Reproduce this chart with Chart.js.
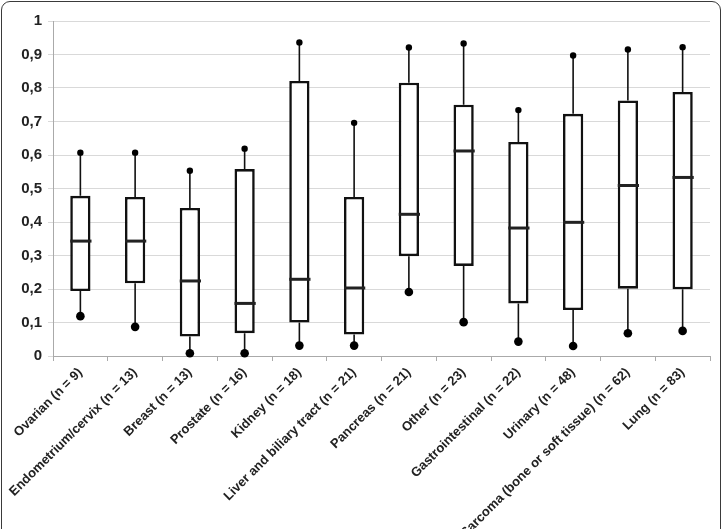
<!DOCTYPE html>
<html>
<head>
    <title>Box plot by tumour type</title>
    <script src="https://cdn.jsdelivr.net/npm/chart.js"></script>
    <style>
        body {
            margin: 0;
            background: #fff;
            font-family: "Liberation Sans", Arial, sans-serif;
        }
        .frame {
            position: absolute;
            left: 1px;
            top: 1px;
            width: 718px;
            height: 560px;
            border: 1.5px solid #3a3a3a;
            border-radius: 9px;
        }
        #chart {
            position: absolute;
            left: 0;
            top: 0;
        }
    </style>
</head>
<body>
    <div class="frame"></div>
    <canvas id="chart" width="726" height="529"></canvas>

    <script>
        const categories = [
            "Ovarian (n = 9)", "Endometrium/cervix (n = 13)", "Breast (n = 13)",
            "Prostate (n = 16)", "Kidney (n = 18)", "Liver and biliary tract (n = 21)",
            "Pancreas (n = 21)", "Other (n = 23)", "Gastrointestinal (n = 22)",
            "Urinary (n = 48)", "Sarcoma (bone or soft tissue) (n = 62)", "Lung (n = 83)"
        ];
        const lowerValues  = [0.119, 0.087, 0.008, 0.008, 0.031, 0.031, 0.191, 0.101, 0.043, 0.030, 0.068, 0.075];
        const q1Values     = [0.194, 0.217, 0.058, 0.068, 0.100, 0.064, 0.298, 0.269, 0.157, 0.137, 0.201, 0.199];
        const medianValues = [0.343, 0.343, 0.224, 0.157, 0.229, 0.203, 0.423, 0.612, 0.382, 0.399, 0.509, 0.533];
        const q3Values     = [0.478, 0.475, 0.442, 0.558, 0.821, 0.475, 0.816, 0.750, 0.639, 0.723, 0.763, 0.788];
        const upperValues  = [0.607, 0.607, 0.553, 0.619, 0.936, 0.696, 0.921, 0.933, 0.734, 0.897, 0.915, 0.922];
        const yTickLabels  = ["0", "0,1", "0,2", "0,3", "0,4", "0,5", "0,6", "0,7", "0,8", "0,9", "1"];

        // whiskers behind the boxes, medians on top
        const boxPlotLines = {
            id: "boxPlotLines",
            beforeDatasetsDraw(chart) {
                const ctx = chart.ctx;
                const x = chart.scales.x, y = chart.scales.y;
                ctx.save();
                ctx.strokeStyle = "#111";
                ctx.lineWidth = 1.6;
                categories.forEach((c, i) => {
                    const px = x.getPixelForValue(i);
                    ctx.beginPath();
                    ctx.moveTo(px, y.getPixelForValue(q3Values[i]));
                    ctx.lineTo(px, y.getPixelForValue(upperValues[i]));
                    ctx.moveTo(px, y.getPixelForValue(q1Values[i]));
                    ctx.lineTo(px, y.getPixelForValue(lowerValues[i]));
                    ctx.stroke();
                });
                ctx.restore();
            },
            afterDatasetsDraw(chart) {
                const ctx = chart.ctx;
                const y = chart.scales.y;
                const bars = chart.getDatasetMeta(0).data;
                ctx.save();
                ctx.strokeStyle = "#222";
                ctx.lineWidth = 3;
                bars.forEach((bar, i) => {
                    const half = bar.width / 2;
                    const py = y.getPixelForValue(medianValues[i]);
                    ctx.beginPath();
                    ctx.moveTo(bar.x - half, py);
                    ctx.lineTo(bar.x + half + 1, py);
                    ctx.stroke();
                });
                ctx.restore();
            }
        };

        const ctx = document.getElementById("chart").getContext("2d");
        new Chart(ctx, {
            type: "bar",
            data: {
                labels: categories,
                datasets: [{
                    label: "Box",
                    data: categories.map((c, i) => [q1Values[i], q3Values[i]]),
                    backgroundColor: "#fff",
                    borderColor: "#111",
                    borderWidth: 2.6,
                    borderSkipped: false,
                    barPercentage: 0.37,
                    categoryPercentage: 1,
                    order: 2
                }, {
                    type: "line",
                    label: "Upper",
                    data: upperValues,
                    showLine: false,
                    pointRadius: 3.2,
                    pointBackgroundColor: "#000",
                    pointBorderWidth: 0,
                    clip: false,
                    order: 1
                }, {
                    type: "line",
                    label: "Lower",
                    data: lowerValues,
                    showLine: false,
                    pointRadius: 4.3,
                    pointBackgroundColor: "#000",
                    pointBorderWidth: 0,
                    clip: false,
                    order: 1
                }]
            },
            options: {
                responsive: false,
                animation: false,
                layout: { padding: { top: 21, right: 16, left: 0, bottom: 0 } },
                plugins: {
                    legend: { display: false },
                    tooltip: { enabled: false }
                },
                scales: {
                    x: {
                        afterFit: s => { s.height = 173; },
                        grid: {
                            offset: true,
                            drawOnChartArea: false,
                            color: "#aaa",
                            tickLength: 5
                        },
                        border: { color: "#aaa" },
                        ticks: {
                            minRotation: 45,
                            maxRotation: 45,
                            autoSkip: false,
                            padding: 4,
                            color: "#222",
                            font: { family: "Liberation Sans", size: 13, weight: "bold" }
                        }
                    },
                    y: {
                        min: 0,
                        max: 1,
                        afterFit: s => { s.width = 53; },
                        grid: { color: "#d9d9d9", tickLength: 5 },
                        border: { color: "#aaa" },
                        ticks: {
                            stepSize: 0.1,
                            padding: 6,
                            color: "#222",
                            font: { family: "Liberation Sans", size: 15, weight: "bold" },
                            callback: (v, i) => yTickLabels[i]
                        }
                    }
                }
            },
            plugins: [boxPlotLines]
        });
    </script>
</body>
</html>
